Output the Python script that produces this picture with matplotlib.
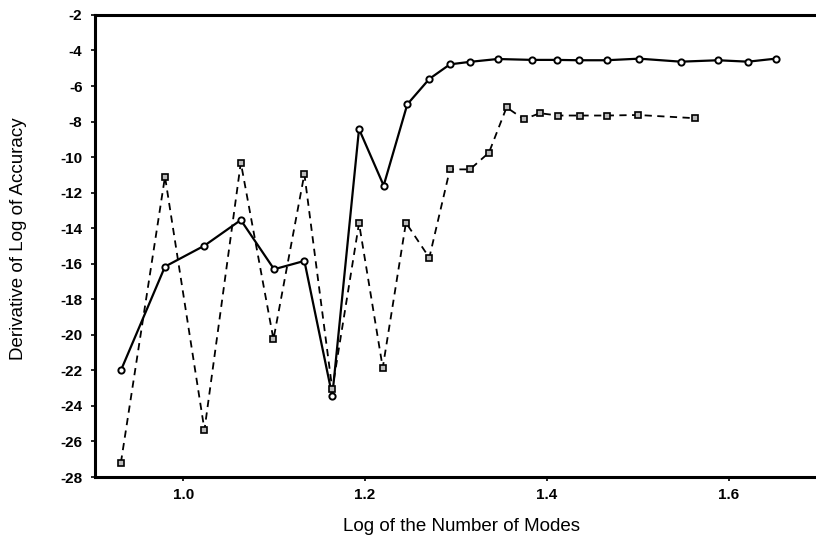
import matplotlib
matplotlib.use("Agg")
import matplotlib.pyplot as plt

# Solid series (circles)
x_solid = [0.9315, 0.980, 1.0234, 1.0634, 1.100, 1.1333, 1.164, 1.1934, 1.2205, 1.2465,
           1.2707, 1.2934, 1.3154, 1.3458, 1.3839, 1.4106, 1.4352, 1.4656, 1.5014, 1.5473,
           1.5883, 1.6212, 1.6516]
y_solid = [-22.0, -16.16, -14.98, -13.54, -16.31, -15.84, -23.44, -8.42, -11.6, -7.03,
           -5.6, -4.78, -4.64, -4.48, -4.53, -4.53, -4.55, -4.55, -4.46, -4.63,
           -4.55, -4.63, -4.46]

# Dashed series (squares)
x_dashed = [0.9315, 0.980, 1.0234, 1.0634, 1.0993, 1.1333, 1.164, 1.1934, 1.2195, 1.245,
            1.2707, 1.2934, 1.3154, 1.3363, 1.3557, 1.3747, 1.3923, 1.4124, 1.4363, 1.4656,
            1.5003, 1.5626]
y_dashed = [-27.19, -11.1, -25.35, -10.31, -20.25, -10.95, -23.07, -13.72, -21.85, -13.69,
            -15.66, -10.69, -10.69, -9.75, -7.2, -7.87, -7.53, -7.66, -7.66, -7.66,
            -7.63, -7.81]

x_ticks = [1.0, 1.2, 1.4, 1.6]
x_tick_labels = ["1.0", "1.2", "1.4", "1.6"]
y_ticks = list(range(-28, -1, 2))

plt.rcParams['font.family'] = ['Liberation Sans', 'DejaVu Sans']

fig = plt.figure(figsize=(8.16, 5.43), dpi=100)
ax = fig.add_axes([0.1164, 0.1215, 0.8836, 0.851])

ax.plot(x_solid, y_solid, color='black', linestyle='-', linewidth=1.6,
        marker='o', markersize=4.5, markerfacecolor='white', markeredgecolor='black',
        markeredgewidth=1.4)
ax.plot(x_dashed, y_dashed, color='black', linestyle=(0, (4, 3)), linewidth=1.3,
        marker='s', markersize=4.5, markerfacecolor='#bbbbbb', markeredgecolor='black',
        markeredgewidth=1.2)

ax.set_xlim(0.903, 1.696)
ax.set_ylim(-28, -2)
ax.set_xticks(x_ticks)
ax.set_xticklabels(x_tick_labels)
ax.set_yticks(y_ticks)
ax.set_yticklabels([str(v) for v in y_ticks])

for s in ['left', 'bottom', 'top']:
    ax.spines[s].set_linewidth(2.2)
ax.spines['right'].set_visible(False)

ax.tick_params(axis='both', direction='out', length=3, width=1.2, labelsize=11)
ax.tick_params(axis='y', pad=6)
ax.tick_params(axis='x', pad=5)
for lab in ax.get_xticklabels() + ax.get_yticklabels():
    lab.set_fontweight('bold')

ax.set_xlabel("Log of the Number of Modes", fontsize=13.5)
ax.set_ylabel("Derivative of Log of Accuracy", fontsize=13.5)
ax.xaxis.set_label_coords(0.508, -0.088)
ax.yaxis.set_label_coords(-0.094, 0.516)

fig.savefig("out.png", dpi=100)
